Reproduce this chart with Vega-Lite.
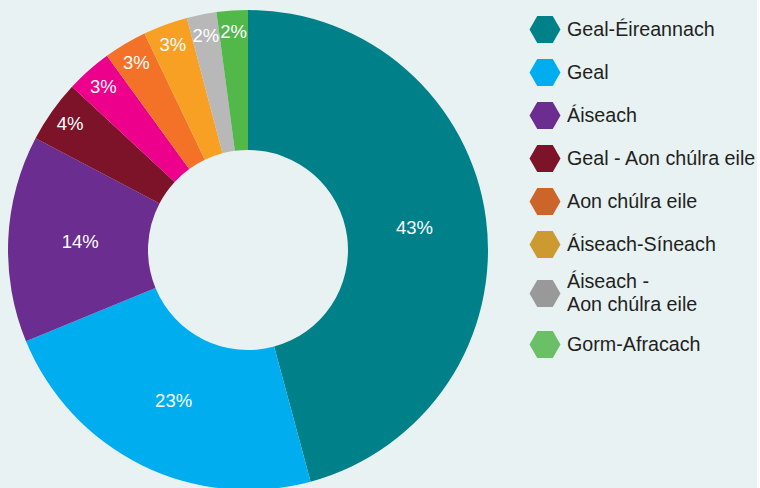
{
  "$schema": "https://vega.github.io/schema/vega-lite/v6.json",
  "width": 496,
  "height": 500,
  "padding": 0,
  "background": "#e8f2f3",
  "config": {
    "view": {"stroke": null},
    "legend": {
      "orient": "none",
      "legendX": 529.5,
      "legendY": 14,
      "padding": 0,
      "title": null,
      "symbolType": "M-1,0L-0.5,-0.866L0.5,-0.866L1,0L0.5,0.866L-0.5,0.866Z",
      "symbolSize": 961,
      "symbolOpacity": 1,
      "symbolStrokeWidth": 0,
      "labelFont": "Liberation Sans",
      "labelFontSize": 19.7,
      "labelColor": "#231f20",
      "labelOffset": 6.5,
      "labelLimit": 400,
      "rowPadding": 14
    }
  },
  "datasets": {
    "pie": [
      {"slice": "Geal-Éireannach", "o": 1, "value": 45.8, "label": "43%"},
      {"slice": "Geal", "o": 2, "value": 23, "label": "23%"},
      {"slice": "Áiseach", "o": 3, "value": 13.9, "label": "14%"},
      {"slice": "Geal - Aon chúlra eile", "o": 4, "value": 4.2, "label": "4%"},
      {"slice": "Eile", "o": 5, "value": 3.1, "label": "3%"},
      {"slice": "Aon chúlra eile", "o": 6, "value": 2.9, "label": "3%"},
      {"slice": "Áiseach-Síneach", "o": 7, "value": 3, "label": "3%"},
      {"slice": "Áiseach - Aon chúlra eile", "o": 8, "value": 2, "label": "2%"},
      {"slice": "Gorm-Afracach", "o": 9, "value": 2.1, "label": "2%"}
    ],
    "leg": [
      {"cat": "Geal-Éireannach"},
      {"cat": "Geal"},
      {"cat": "Áiseach"},
      {"cat": "Geal - Aon chúlra eile"},
      {"cat": "Aon chúlra eile"},
      {"cat": "Áiseach-Síneach"},
      {"cat": "Áiseach -\nAon chúlra eile"},
      {"cat": "Gorm-Afracach"}
    ]
  },
  "layer": [
    {
      "data": {"name": "pie"},
      "mark": {"type": "arc", "innerRadius": 100, "outerRadius": 240},
      "encoding": {
        "theta": {"field": "value", "type": "quantitative", "stack": true},
        "order": {"field": "o", "type": "quantitative"},
        "color": {
          "field": "slice",
          "type": "nominal",
          "legend": null,
          "scale": {
            "domain": ["Geal-Éireannach", "Geal", "Áiseach", "Geal - Aon chúlra eile", "Eile", "Aon chúlra eile", "Áiseach-Síneach", "Áiseach - Aon chúlra eile", "Gorm-Afracach"],
            "range": ["#00818a", "#00aeef", "#6b2d8f", "#7c1329", "#ec008c", "#f37227", "#f8a024", "#b8b8b8", "#52b84a"]
          }
        }
      }
    },
    {
      "data": {"name": "pie"},
      "mark": {"type": "text", "radius": 168, "font": "Liberation Sans", "fontSize": 18.5, "fill": "#ffffff", "align": "center", "baseline": "middle"},
      "encoding": {
        "theta": {"field": "value", "type": "quantitative", "stack": true},
        "order": {"field": "o", "type": "quantitative"},
        "text": {"condition": {"test": "datum.value >= 10", "field": "label"}, "value": ""}
      }
    },
    {
      "data": {"name": "pie"},
      "mark": {"type": "text", "radius": 218, "font": "Liberation Sans", "fontSize": 18.5, "fill": "#ffffff", "align": "center", "baseline": "middle"},
      "encoding": {
        "theta": {"field": "value", "type": "quantitative", "stack": true},
        "order": {"field": "o", "type": "quantitative"},
        "text": {"condition": {"test": "datum.value < 10", "field": "label"}, "value": ""}
      }
    },
    {
      "data": {"name": "leg"},
      "mark": {"type": "point", "filled": true, "opacity": 0},
      "encoding": {
        "color": {
          "field": "cat",
          "type": "nominal",
          "scale": {
            "domain": ["Geal-Éireannach", "Geal", "Áiseach", "Geal - Aon chúlra eile", "Aon chúlra eile", "Áiseach-Síneach", "Áiseach -\nAon chúlra eile", "Gorm-Afracach"],
            "range": ["#00818a", "#00aeef", "#6b2d8f", "#7c1329", "#cc6529", "#cd9a31", "#999999", "#6bbf66"]
          },
          "legend": {
            "labelExpr": "split(datum.label, '\\n')",
            "encoding": {
              "labels": {
                "lineHeight": {"value": 23},
                "dy": {"condition": {"test": "indexof(datum.value, '\\n') >= 0", "value": -11.5}, "value": 0}
              }
            }
          }
        }
      }
    }
  ],
  "resolve": {"scale": {"color": "independent"}}
}
